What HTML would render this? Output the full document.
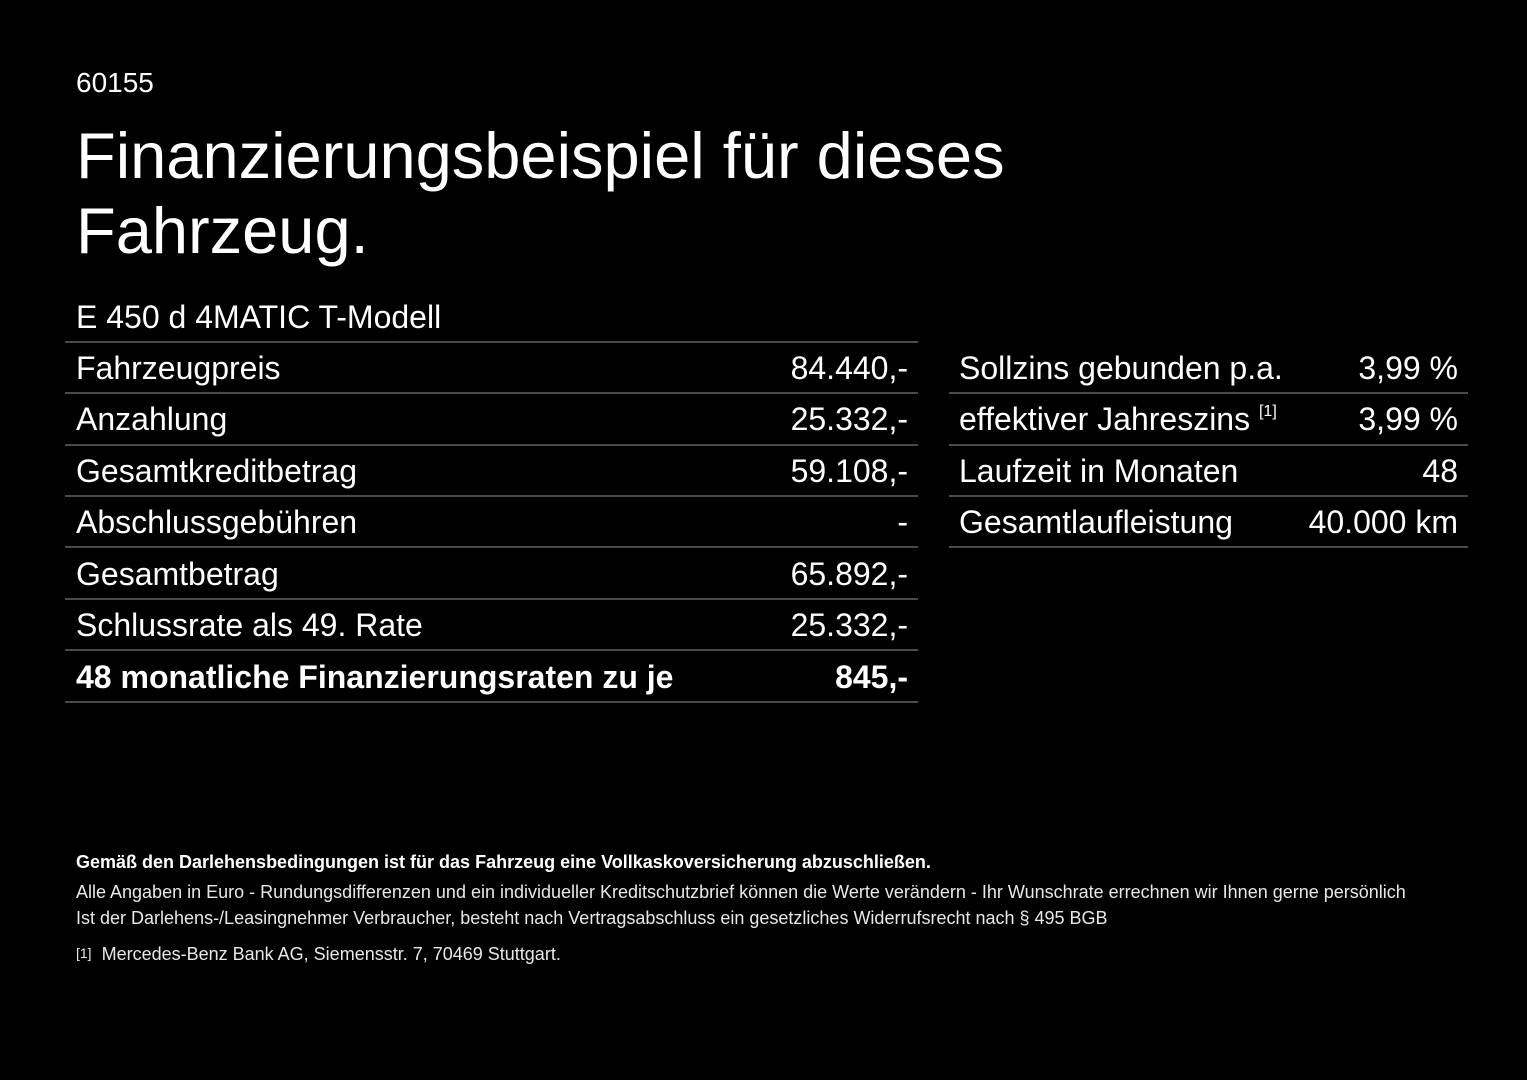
<!DOCTYPE html>
<html><head><meta charset="utf-8"><style>
body{margin:0;width:1527px;height:1080px;background:#000;color:#fff;font-family:"Liberation Sans",Arial,sans-serif;position:relative;overflow:hidden}
.a{position:absolute;white-space:nowrap}
.l{position:absolute;height:2px;background:#4a4a4a}
.r{font-size:32px;line-height:32px}
.sm{font-size:18px;color:#e8e8e8}
</style></head><body>
<div class="a" style="left:76px;top:67px;font-size:28px">60155</div>
<div class="a" style="left:76px;top:118px;font-size:65px;line-height:75px">Finanzierungsbeispiel für dieses<br>Fahrzeug.</div>
<div class="a r" style="left:76px;top:301px">E 450 d 4MATIC T-Modell</div>

<div class="l" style="left:65px;width:853px;top:341px"></div>
<div class="l" style="left:65px;width:853px;top:392px"></div>
<div class="l" style="left:65px;width:853px;top:444px"></div>
<div class="l" style="left:65px;width:853px;top:495px"></div>
<div class="l" style="left:65px;width:853px;top:546px"></div>
<div class="l" style="left:65px;width:853px;top:598px"></div>
<div class="l" style="left:65px;width:853px;top:649px"></div>
<div class="l" style="left:65px;width:853px;top:701px"></div>

<div class="a r" style="left:76px;top:352px">Fahrzeugpreis</div><div class="a r" style="right:619px;top:352px">84.440,-</div>
<div class="a r" style="left:76px;top:403px">Anzahlung</div><div class="a r" style="right:619px;top:403px">25.332,-</div>
<div class="a r" style="left:76px;top:455px">Gesamtkreditbetrag</div><div class="a r" style="right:619px;top:455px">59.108,-</div>
<div class="a r" style="left:76px;top:506px">Abschlussgebühren</div><div class="a r" style="right:619px;top:506px">-</div>
<div class="a r" style="left:76px;top:558px">Gesamtbetrag</div><div class="a r" style="right:619px;top:558px">65.892,-</div>
<div class="a r" style="left:76px;top:609px">Schlussrate als 49. Rate</div><div class="a r" style="right:619px;top:609px">25.332,-</div>
<div class="a r" style="left:76px;top:661px;font-weight:bold">48 monatliche Finanzierungsraten zu je</div><div class="a r" style="right:619px;top:661px;font-weight:bold">845,-</div>

<div class="l" style="left:949px;width:519px;top:392px"></div>
<div class="l" style="left:949px;width:519px;top:444px"></div>
<div class="l" style="left:949px;width:519px;top:495px"></div>
<div class="l" style="left:949px;width:519px;top:546px"></div>
<div class="a r" style="left:959px;top:352px">Sollzins gebunden p.a.</div><div class="a r" style="right:69px;top:352px">3,99 %</div>
<div class="a r" style="left:959px;top:403px">effektiver Jahreszins <span style="font-size:16px;position:relative;top:-14px">[1]</span></div><div class="a r" style="right:69px;top:403px">3,99 %</div>
<div class="a r" style="left:959px;top:455px">Laufzeit in Monaten</div><div class="a r" style="right:69px;top:455px">48</div>
<div class="a r" style="left:959px;top:506px">Gesamtlaufleistung</div><div class="a r" style="right:69px;top:506px">40.000 km</div>

<div class="a" style="left:76px;top:852px;font-size:18px;font-weight:bold">Gemäß den Darlehensbedingungen ist für das Fahrzeug eine Vollkaskoversicherung abzuschließen.</div>
<div class="a sm" style="left:76px;top:882px">Alle Angaben in Euro - Rundungsdifferenzen und ein individueller Kreditschutzbrief können die Werte verändern - Ihr Wunschrate errechnen wir Ihnen gerne persönlich</div>
<div class="a sm" style="left:76px;top:908px">Ist der Darlehens-/Leasingnehmer Verbraucher, besteht nach Vertragsabschluss ein gesetzliches Widerrufsrecht nach § 495 BGB</div>
<div class="a sm" style="left:76px;top:944px"><span style="font-size:14px;position:relative;top:-2px">[1]</span>&nbsp; Mercedes-Benz Bank AG, Siemensstr. 7, 70469 Stuttgart.</div>
</body></html>
